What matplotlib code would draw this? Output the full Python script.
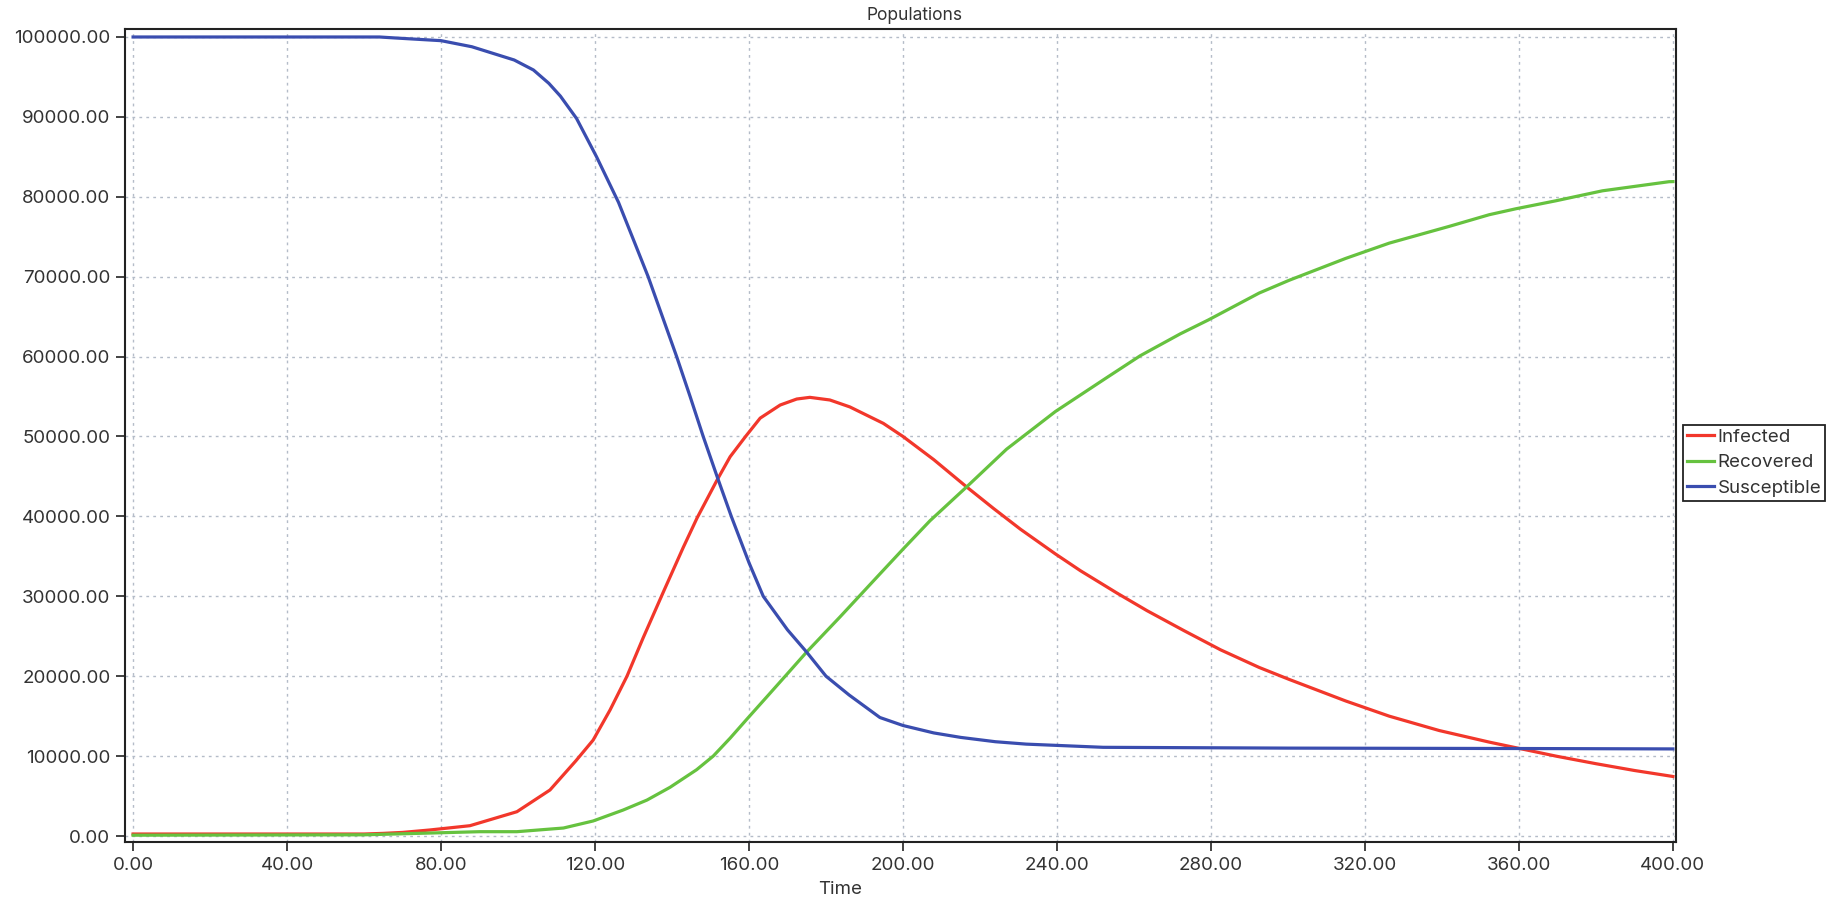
import matplotlib
matplotlib.use("Agg")
import matplotlib.pyplot as plt
from matplotlib.ticker import FormatStrFormatter, MultipleLocator

plt.rcParams['font.family'] = ['Inter', 'DejaVu Sans']

# values
s_time = [0, 64, 68, 80, 88, 99, 104, 108, 111, 115.2, 120.4, 123.1, 126.1, 130,
          133.8, 137.5, 141.2, 144.7, 148.1, 151.7, 155.4, 160, 163.7, 170, 175,
          180, 186, 194, 200, 208, 215, 224, 232, 240, 252, 300, 360, 400]
susceptible = [100000, 100000, 99880, 99540, 98780, 97120, 95870, 94200, 92600,
               89800, 85000, 82300, 79300, 74600, 70000, 65000, 60000, 55000,
               50000, 45000, 40000, 34200, 30000, 25800, 23000, 20000, 17650,
               14830, 13830, 12900, 12340, 11800, 11500, 11340, 11100, 11000,
               10950, 10900]

i_time = [0, 60, 65, 70, 77, 87.5, 99.7, 108.3, 115, 119.5, 123.9, 128.3,
          132.5, 137.8, 142.9, 146.5, 151.7, 155.1, 159.1, 162.9, 168.1, 172.4,
          175.8, 181, 186.2, 194.9, 200, 208, 216.5, 223.5, 230.5, 239.6, 246.1,
          255.6, 263.4, 273, 282.5, 292.5, 300.3, 315, 326.3, 339.3, 352.3,
          359.2, 369.6, 380, 390, 400]
infected = [250, 250, 330, 450, 750, 1290, 3040, 5760, 9400, 12000, 15770, 20000,
            24800, 30600, 36100, 39800, 44550, 47470, 50000, 52300, 53940, 54690,
            54900, 54570, 53700, 51640, 50000, 47100, 43700, 41000, 38400, 35300,
            33200, 30400, 28200, 25700, 23300, 21100, 19600, 16900, 15000, 13200,
            11750, 11050, 10000, 9050, 8200, 7450]

r_time = [0, 60, 77, 90, 99.7, 111.8, 119.5, 127.3, 133.5, 139.5, 146.4, 150.7,
          155.1, 159.4, 164.5, 169.4, 175, 183.6, 194, 200, 207, 216.5, 226.9,
          239.6, 252.9, 261.6, 272, 279.3, 292.5, 300.3, 315, 326.3, 341.9, 352.3,
          359.2, 369.6, 381.7, 399, 400]
recovered = [100, 150, 370, 540, 540, 1000, 1880, 3250, 4500, 6100, 8300, 10000,
             12250, 14600, 17350, 20000, 23040, 27400, 32800, 35900, 39450, 43680,
             48410, 53130, 57360, 60100, 62840, 64580, 67950, 69550, 72290, 74200,
             76300, 77760, 78500, 79500, 80750, 81890, 81900]

fig = plt.figure(figsize=(18.31, 8.99), dpi=100)
ax = fig.add_axes([125 / 1831, 1 - 842 / 899, (1676 - 125) / 1831, (842 - 29) / 899])

ax.plot(i_time, infected, color='#f2372b', lw=2.3, label='Infected')
ax.plot(r_time, recovered, color='#66c23f', lw=2.3, label='Recovered')
ax.plot(s_time, susceptible, color='#3a4daf', lw=2.3, label='Susceptible')

ax.set_xlim(-2.1, 400.8)
ax.set_ylim(-750, 101000)
ax.xaxis.set_major_locator(MultipleLocator(40))
ax.yaxis.set_major_locator(MultipleLocator(10000))
ax.xaxis.set_major_formatter(FormatStrFormatter('%.2f'))
ax.yaxis.set_major_formatter(FormatStrFormatter('%.2f'))

ax.grid(True, color='#b4bcc8', linestyle=(0, (2, 3)), linewidth=1)
for sp in ax.spines.values():
    sp.set_linewidth(1.5)
    sp.set_color('#222222')
ax.tick_params(direction='out', length=6.5, width=1.2, color='#222222',
               labelsize=13.5, labelcolor='#333333', pad=4)

ax.text(0.509, 1.0172, 'Populations', transform=ax.transAxes, ha='center',
        va='center', fontsize=12.5, color='#333333')
ax.set_xlabel('Time', fontsize=13.5, color='#333333')
ax.xaxis.label.set_va('baseline')
ax.xaxis.set_label_coords((840 - 125) / 1551, (842 - 894) / 813)

leg = fig.legend(loc='upper left', bbox_to_anchor=(1683 / 1831, 1 - 425 / 899),
                 borderaxespad=0, fancybox=False, framealpha=1, edgecolor='#222222',
                 fontsize=13.5, handlelength=1.45, handletextpad=0.2,
                 borderpad=0.2, labelspacing=0.45)
leg.get_frame().set_linewidth(1.3)
for t in leg.get_texts():
    t.set_color('#333333')

fig.savefig('out.png', dpi=100)
